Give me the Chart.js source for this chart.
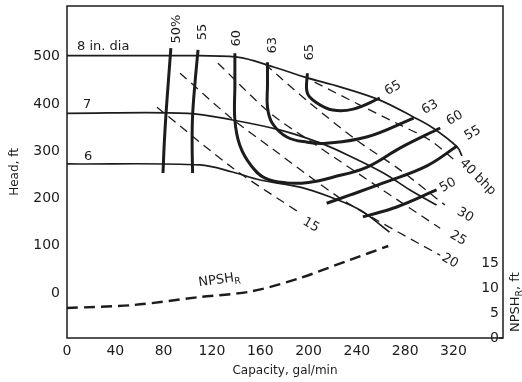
<!DOCTYPE html>
<html>
<head>
<meta charset="utf-8">
<script src="https://cdn.jsdelivr.net/npm/chart.js@4.4.1/dist/chart.umd.min.js"></script>
<style>
  html, body { margin: 0; padding: 0; background: #fff; }
  #wrap { width: 522px; height: 382px; }
</style>
</head>
<body>
<div id="wrap"><canvas id="chart" width="522" height="382"></canvas></div>
<script>
// axis ticks
const capTicks = [0, 40, 80, 120, 160, 200, 240, 280, 320];
const headTicks = [0, 100, 200, 300, 400, 500];
const npshTicks = [0, 5, 10, 15];

// head-capacity curves per impeller diameter [gal/min, ft]
const head8 = [[0, 502], [85, 502], [141, 499], [171, 478], [199, 455], [226, 436], [259, 408], [287, 372], [303, 349], [323, 309], [327, 290]];
const head7 = [[0, 380], [100, 380], [137, 366], [176, 345], [210, 317], [234, 290], [262, 254], [284, 218], [306, 186]];
const head6 = [[0, 273], [110, 271], [137, 256], [160, 239], [193, 224], [218, 203], [243, 175], [267, 129]];

// efficiency contours (%)
const eff50L = [[86, 518], [84, 450], [82, 380], [80.5, 315], [79.5, 254]];
const eff55L = [[108.5, 514], [106, 445], [104, 376], [103.6, 315], [104, 254]];
const eff60 = [[139, 507], [139, 440], [139, 366], [143, 313], [152, 271], [164, 243], [182, 233], [200, 234], [220, 245], [248, 266], [276, 307], [309, 349]];
const eff63 = [[166, 488], [166, 440], [166, 393], [170, 359], [182, 330], [199, 319], [215, 317], [248, 330], [287, 370]];
const eff65 = [[199, 465], [199, 423], [207, 402], [220, 387], [237, 389], [259, 412]];
const eff55R = [[215, 190], [234, 207], [262, 233], [298, 269], [323, 311]];
const eff50R = [[245, 161], [273, 182], [306, 218]];

// brake horsepower lines
const bhp15 = [[74.5, 393], [137.5, 264], [193, 169]];
const bhp20 = [[93.6, 465], [135, 372], [170.6, 304], [223.6, 205], [256.7, 154], [309, 80]];
const bhp25 = [[125, 486], [168, 381], [204, 317], [259, 222], [309, 137]];
const bhp30 = [[164, 484], [201, 402], [240, 323], [276, 260], [313, 186]];
const bhp40 = [[205, 446], [243, 397], [273, 359], [300.6, 323], [321, 281]];

// required NPSH [gal/min, ft] (right axis)
const npshR = [[0, 6], [55, 6.6], [110, 8.2], [152, 9.3], [193, 12], [234, 15.6], [266, 18.4]];

const ink = "#1c1c1c";
const font = "'DejaVu Sans', sans-serif";

function pts(arr) {
    return arr.map(p => ({ x: p[0], y: p[1] }));
}

function headLine(arr) {
    return { data: pts(arr), borderColor: ink, borderWidth: 1.7, tension: 0.35, pointRadius: 0, yAxisID: "y" };
}
function effLine(arr) {
    return { data: pts(arr), borderColor: ink, borderWidth: 3, tension: 0.4, pointRadius: 0, yAxisID: "y" };
}
function bhpLine(arr) {
    return { data: pts(arr), borderColor: ink, borderWidth: 1.3, borderDash: [9, 6], tension: 0.3, pointRadius: 0, yAxisID: "y" };
}

// text on the plot, placed in data units
const notes = [
    { t: "8 in. dia", x: 8.3, y: 521, rot: 0, align: "left" },
    { t: "7", x: 13.3, y: 398, rot: 0, align: "left" },
    { t: "6", x: 14, y: 289, rot: 0, align: "left" },
    { t: "50%", x: 91, y: 558, rot: -90 },
    { t: "55", x: 112.6, y: 552, rot: -90 },
    { t: "60", x: 140.8, y: 539, rot: -90 },
    { t: "63", x: 170.6, y: 524, rot: -90 },
    { t: "65", x: 201, y: 509, rot: -90 },
    { t: "65", x: 270, y: 433, rot: -30 },
    { t: "63", x: 300.6, y: 393, rot: -30 },
    { t: "60", x: 321, y: 370, rot: -30 },
    { t: "55", x: 336, y: 338, rot: -30 },
    { t: "50", x: 315.5, y: 228, rot: -30 },
    { t: "40 bhp", x: 340, y: 245, rot: 45 },
    { t: "30", x: 329.6, y: 165, rot: 30 },
    { t: "25", x: 323.8, y: 116, rot: 30 },
    { t: "20", x: 317, y: 68, rot: 30 },
    { t: "15", x: 202, y: 144, rot: 30 }
];

function subText(ctx, main, sub, rest, x, y, size) {
    ctx.font = size + "px " + font;
    ctx.fillText(main, x, y);
    let w = ctx.measureText(main).width;
    ctx.font = (size * 0.72) + "px " + font;
    ctx.fillText(sub, x + w, y + size * 0.3);
    w += ctx.measureText(sub).width;
    ctx.font = size + "px " + font;
    ctx.fillText(rest, x + w, y);
}

const extras = {
    id: "extras",
    afterDatasetsDraw(chart) {
        const { ctx, chartArea: a, scales } = chart;
        const sx = scales.x, sy = scales.y, sy2 = scales.y2;
        ctx.save();
        ctx.strokeStyle = ink;
        ctx.lineWidth = 1.5;
        ctx.strokeRect(a.left, a.top, a.right - a.left, a.bottom - a.top);

        // small tick at NPSH 0
        ctx.beginPath();
        ctx.moveTo(a.right - 4, sy2.getPixelForValue(0));
        ctx.lineTo(a.right, sy2.getPixelForValue(0));
        ctx.stroke();

        ctx.fillStyle = ink;
        ctx.font = "13px " + font;
        ctx.textBaseline = "middle";
        notes.forEach(n => {
            ctx.save();
            ctx.translate(sx.getPixelForValue(n.x), sy.getPixelForValue(n.y));
            ctx.rotate(n.rot * Math.PI / 180);
            ctx.textAlign = n.align || "center";
            ctx.fillText(n.t, 0, 0);
            ctx.restore();
        });

        // NPSH_R label on the curve
        ctx.save();
        ctx.translate(sx.getPixelForValue(109), sy2.getPixelForValue(11));
        ctx.rotate(-8 * Math.PI / 180);
        ctx.textAlign = "left";
        subText(ctx, "NPSH", "R", "", 0, 0, 13);
        ctx.restore();

        // right axis title
        ctx.save();
        ctx.translate(516, sy2.getPixelForValue(1.2));
        ctx.rotate(-Math.PI / 2);
        ctx.textAlign = "left";
        subText(ctx, "NPSH", "R", ", ft", 0, 0, 13);
        ctx.restore();
        ctx.restore();
    }
};

function noPad(s) {
    s.paddingTop = 0;
    s.paddingBottom = 0;
}

const chart = new Chart(document.getElementById("chart"), {
    type: "line",
    data: {
        datasets: [
            headLine(head8), headLine(head7), headLine(head6),
            effLine(eff50L), effLine(eff55L), effLine(eff60), effLine(eff63), effLine(eff65),
            effLine(eff55R), effLine(eff50R),
            bhpLine(bhp15), bhpLine(bhp20), bhpLine(bhp25), bhpLine(bhp30), bhpLine(bhp40),
            { data: pts(npshR), borderColor: ink, borderWidth: 2.4, borderDash: [11, 6], tension: 0.3, pointRadius: 0, yAxisID: "y2" }
        ]
    },
    options: {
        responsive: false,
        animation: false,
        layout: { padding: { top: 6, left: 0, right: 0, bottom: 0 } },
        plugins: {
            legend: { display: false },
            tooltip: { enabled: false }
        },
        scales: {
            x: {
                type: "linear",
                min: 0,
                max: 361,
                grid: { display: false, drawTicks: false },
                border: { display: false },
                ticks: { color: ink, padding: 5, font: { family: font, size: 14 } },
                afterBuildTicks: s => { s.ticks = capTicks.map(v => ({ value: v })); },
                afterFit: s => { s.height = 44; s.paddingLeft = 0; s.paddingRight = 0; },
                title: { display: true, text: "Capacity, gal/min", color: ink, font: { family: font, size: 12 }, padding: { top: 0, bottom: 4 } }
            },
            y: {
                type: "linear",
                min: -95,
                max: 607,
                grid: { display: false, drawTicks: false },
                border: { display: false },
                ticks: { color: ink, padding: 7, font: { family: font, size: 14 } },
                afterBuildTicks: s => { s.ticks = headTicks.map(v => ({ value: v })); },
                afterFit: s => { s.width = 67; noPad(s); },
                title: { display: true, text: "Head, ft", color: ink, font: { family: font, size: 12 }, padding: { top: 8, bottom: 0 } }
            },
            y2: {
                type: "linear",
                position: "right",
                min: 0,
                max: 66.4,
                grid: { display: false, drawTicks: false },
                border: { display: false },
                ticks: { color: ink, mirror: true, padding: -4, font: { family: font, size: 14 } },
                afterBuildTicks: s => { s.ticks = npshTicks.map(v => ({ value: v })); },
                afterFit: s => { s.width = 19; noPad(s); }
            }
        }
    },
    plugins: [extras]
});
</script>
</body>
</html>
